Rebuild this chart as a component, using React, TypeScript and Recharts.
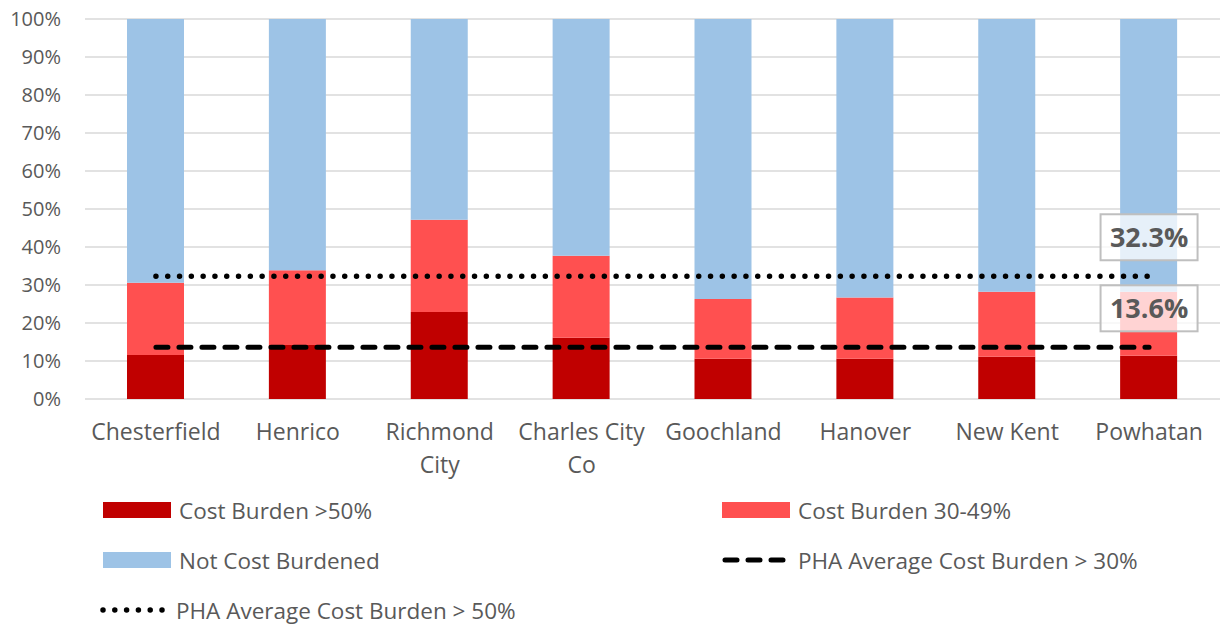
import React from "react";
import { ComposedChart, Bar, Line, XAxis, YAxis, CartesianGrid } from "recharts";

const counties = ["Chesterfield", "Henrico", "Richmond City", "Charles City Co", "Goochland", "Hanover", "New Kent", "Powhatan"];
const severe = [11.6, 14.2, 22.9, 16.1, 10.6, 10.6, 11.1, 11.4];
const moderate = [19.0, 19.7, 24.3, 21.6, 15.7, 16.1, 17.1, 16.8];
const notBurdened = [69.4, 66.1, 52.8, 62.3, 73.7, 73.3, 71.8, 71.8];
const avgOver30 = 13.6;
const avgOver50 = 32.3;
const yTicks = [0, 10, 20, 30, 40, 50, 60, 70, 80, 90, 100];

const TEXT = "#595959";
const FONT = "'Open Sans', sans-serif";
const COLORS = { severe: "#C00000", moderate: "#FF5050", none: "#9DC3E6" };

const data = counties.map((name, i) => ({
  name,
  severe: severe[i],
  moderate: moderate[i],
  none: notBurdened[i],
  avg30: avgOver30,
  avg50: avgOver50,
}));

// two-line labels like "Richmond / City"
const splitLabel = (s: string) => {
  if (s === "Richmond City") return ["Richmond", "City"];
  if (s === "Charles City Co") return ["Charles City", "Co"];
  return [s];
};

function CountyTick({ x, y, payload }: any) {
  const lines = splitLabel(payload.value);
  return (
    <text x={x} y={y} textAnchor="middle" fill={TEXT} fontSize={23} fontFamily={FONT}>
      {lines.map((l, i) => (
        <tspan key={i} x={x} y={y + 33 + i * 33}>{l}</tspan>
      ))}
    </text>
  );
}

function boxLabel(text: string) {
  return (props: any) => {
    const { x, y, index } = props;
    if (index !== counties.length - 1) return <g key={index} />;
    const cy = y - 39;
    return (
      <g key={index}>
        <rect x={x - 48.5} y={cy - 23} width={97} height={46} fill="rgba(255,255,255,0.75)" stroke="#BFBFBF" strokeWidth={2} />
        <text x={x} y={cy + 10} textAnchor="middle" fill={TEXT} fontSize={27} fontWeight={700} fontFamily={FONT}>{text}</text>
      </g>
    );
  };
}

function LegendItem({ kind, color, label }: { kind: "box" | "dash" | "dot"; color?: string; label: string }) {
  return (
    <div style={{ display: "flex", alignItems: "center", height: 24 }}>
      <svg width={68} height={16} style={{ marginRight: 8 }}>
        {kind === "box" && <rect x={0} y={0} width={68} height={16} fill={color} />}
        {kind === "dash" && (
          <line x1={3} y1={8} x2={66} y2={8} stroke="#000" strokeWidth={5} strokeLinecap="round" strokeDasharray="12 11" />
        )}
        {kind === "dot" && (
          <line x1={3} y1={8} x2={64} y2={8} stroke="#000" strokeWidth={5.5} strokeLinecap="round" strokeDasharray="0 11.8" />
        )}
      </svg>
      <span style={{ fontFamily: FONT, fontSize: 22.5, color: TEXT, whiteSpace: "nowrap" }}>{label}</span>
    </div>
  );
}

export default function App() {
  return (
    <div style={{ position: "absolute", left: 0, top: 0, width: 1220, height: 627, background: "#fff" }}>
      <ComposedChart width={1220} height={480} data={data} margin={{ top: 19, right: 0, left: 0, bottom: 0 }}>
        <CartesianGrid vertical={false} stroke="#D9D9D9" strokeWidth={1.5} />
        <XAxis dataKey="name" axisLine={false} tickLine={false} height={81} interval={0} tick={<CountyTick />} />
        <YAxis
          width={85}
          domain={[0, 100]}
          ticks={yTicks}
          axisLine={false}
          tickLine={false}
          tickSize={0}
          tickMargin={24}
          tickFormatter={(v) => `${v}%`}
          tick={{ fontSize: 20, fill: TEXT, fontFamily: FONT }}
        />
        <Bar dataKey="severe" stackId="a" fill={COLORS.severe} barSize={57} isAnimationActive={false} />
        <Bar dataKey="moderate" stackId="a" fill={COLORS.moderate} barSize={57} isAnimationActive={false} />
        <Bar dataKey="none" stackId="a" fill={COLORS.none} barSize={57} isAnimationActive={false} />
        <Line
          dataKey="avg30"
          stroke="#000"
          strokeWidth={5}
          strokeLinecap="round"
          strokeDasharray="12 11"
          dot={false}
          activeDot={false}
          isAnimationActive={false}
          label={boxLabel("13.6%")}
        />
        <Line
          dataKey="avg50"
          stroke="#000"
          strokeWidth={5.5}
          strokeLinecap="round"
          strokeDasharray="0 11.8"
          dot={false}
          activeDot={false}
          isAnimationActive={false}
          label={boxLabel("32.3%")}
        />
      </ComposedChart>
      <div style={{ position: "absolute", left: 103, top: 498 }}>
        <LegendItem kind="box" color={COLORS.severe} label="Cost Burden >50%" />
      </div>
      <div style={{ position: "absolute", left: 722, top: 498 }}>
        <LegendItem kind="box" color={COLORS.moderate} label="Cost Burden 30-49%" />
      </div>
      <div style={{ position: "absolute", left: 103, top: 548 }}>
        <LegendItem kind="box" color={COLORS.none} label="Not Cost Burdened" />
      </div>
      <div style={{ position: "absolute", left: 722, top: 548 }}>
        <LegendItem kind="dash" label="PHA Average Cost Burden > 30%" />
      </div>
      <div style={{ position: "absolute", left: 100, top: 598 }}>
        <LegendItem kind="dot" label="PHA Average Cost Burden > 50%" />
      </div>
    </div>
  );
}
